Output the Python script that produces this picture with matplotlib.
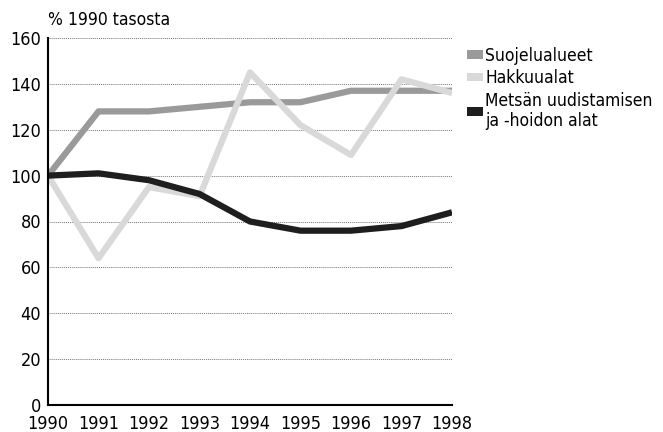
import matplotlib.pyplot as plt
from matplotlib.patches import Patch

plt.rcParams['font.family'] = ['DejaVu Sans']
plt.rcParams['font.stretch'] = 'condensed'

years = [1990, 1991, 1992, 1993, 1994, 1995, 1996, 1997, 1998]
suojelualueet = [100, 128, 128, 130, 132, 132, 137, 137, 137]
hakkuualat = [100, 64, 95, 91, 145, 122, 109, 142, 136]
metsan = [100, 101, 98, 92, 80, 76, 76, 78, 84]

labels = ["Suojelualueet", "Hakkuualat", "Metsän uudistamisen\nja -hoidon alat"]
colors = ["#9a9a9a", "#d9d9d9", "#1e1e1e"]

fig = plt.figure(figsize=(6.63, 4.32), dpi=100)
ax = fig.add_axes([48 / 663, 27 / 432, 404 / 663, 367 / 432])

for vals, c in zip([suojelualueet, hakkuualat, metsan], colors):
    ax.plot(years, vals, color=c, linewidth=4.5, solid_joinstyle="round", solid_capstyle="butt")

ax.set_xlim(1990, 1998)
ax.set_ylim(0, 160)
ax.set_xticks(years)
ax.set_yticks(range(0, 161, 20))
ax.tick_params(length=0, labelsize=13, pad=5)
ax.tick_params(axis="x", pad=7.5)
ax.get_yticklabels()[0].set_va("center_baseline")
ax.yaxis.grid(True, linestyle=(0, (1, 1)), color="#777777", linewidth=0.7)
ax.set_axisbelow(True)
for s in ["top", "right"]:
    ax.spines[s].set_visible(False)
for s in ["left", "bottom"]:
    ax.spines[s].set_linewidth(1.5)

ax.text(0, 1.025, "% 1990 tasosta", transform=ax.transAxes, fontsize=12.5, va="bottom")

handles = [Patch(facecolor=c, edgecolor="none") for c in colors]
fig.legend(handles, labels, loc="upper left", bbox_to_anchor=(460 / 663, 1 - 40 / 432),
           frameon=False, fontsize=12.5, handlelength=0.9, handleheight=0.4,
           handletextpad=0.15, labelspacing=0.25, borderaxespad=0)

fig.savefig("out.png", dpi=100)
